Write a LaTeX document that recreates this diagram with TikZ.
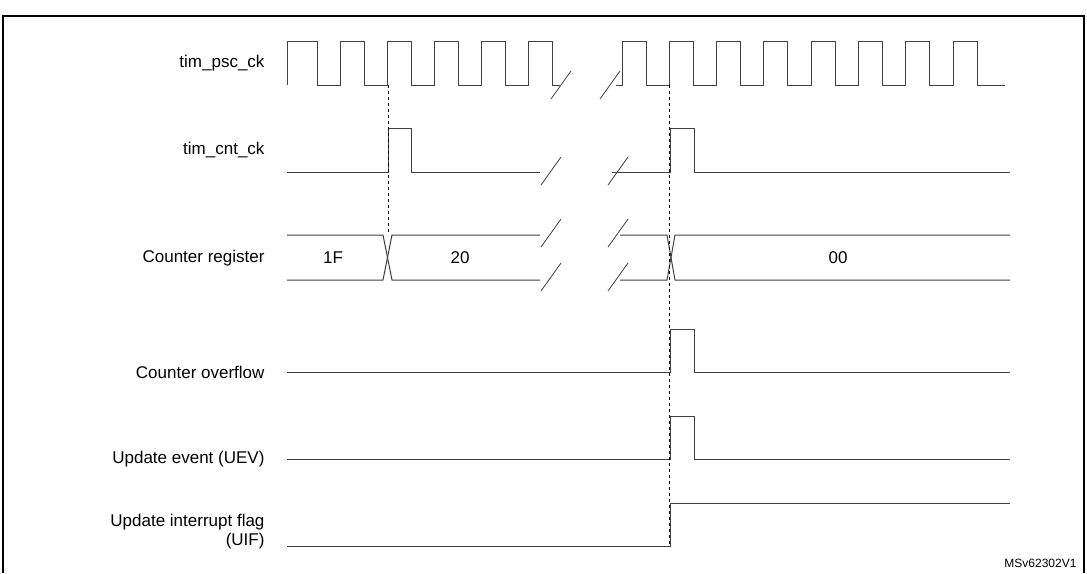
\documentclass[tikz,border=0pt]{standalone}
\usepackage{fontspec}
\setmainfont{Liberation Sans}
\usetikzlibrary{calc, positioning}
\tikzset{
    wave/.style={draw=black!75, line width=1pt},
    cut/.style={draw=black!75, line width=0.8pt},
    guide/.style={draw=black, dashed, line width=0.6pt},
    sig/.style={anchor=east, font=\fontsize{17}{19}\selectfont},
    val/.style={font=\fontsize{17}{19}\selectfont}
}
\newcommand{\slashmark}[3]{
    \draw[cut] (#1, #2) -- ($(#1, #2) + (20, -28)$) coordinate (#3);
}
\begin{document}
\begin{tikzpicture}[x=1pt, y=-1pt]
    \useasboundingbox (0, 0) rectangle (1087, 573);
    \draw[line width=2pt] (3, 573) -- (3, 16) -- (1084, 16) -- (1084, 573);
    % labels
    \node[sig] (lpsc) at (268, 63) {tim\_psc\_ck};
    \node[sig] (lcnt) at (268, 150) {tim\_cnt\_ck};
    \node[sig] (lreg) at (268, 258) {Counter register};
    \node[sig] (lovf) at (268, 372) {Counter overflow};
    \node[sig] (luev) at (268, 459) {Update event (UEV)};
    \node[sig, align=right] (luif) at (268, 532) {Update interrupt flag\\(UIF)};
    \node[anchor=south east, font=\fontsize{12}{14}\selectfont] (ver) at (1080, 571) {MSv62302V1};
    % tim_psc_ck
    \draw[wave] (287, 85) -- (287, 41) -- (317, 41) -- (317, 85)
        \foreach \x in {1, ..., 5} {
            -- ({293 + 47*\x}, 85) -- ({293 + 47*\x}, 41) -- ({293 + 47*\x + 24}, 41)
            -- ({293 + 47*\x + 24}, 85)
        } -- (561, 85);
    \draw[wave] (616, 85)
        \foreach \x in {0, ..., 7} {
            -- ({622 + 47.3*\x}, 85) -- ({622 + 47.3*\x}, 41) -- ({622 + 47.3*\x + 24}, 41)
            -- ({622 + 47.3*\x + 24}, 85)
        } -- (1005, 85);
    \slashmark{551}{99}{psca}
    \slashmark{600}{99}{pscb}
    % tim_cnt_ck
    \draw[wave] (287, 172) -- (388, 172) -- (388, 128) -- (411, 128) -- (411, 172) -- (540, 172);
    \slashmark{541}{185}{cnta}
    \draw[wave] (612, 172) -- (670, 172) -- (670, 128) -- (694, 128) -- (694, 172) -- (1010, 172);
    \slashmark{608}{185}{cntb}
    % counter register
    \draw[wave] (287, 235) -- (383, 235) -- (392, 280) -- (540, 280);
    \draw[wave] (287, 280) -- (383, 280) -- (392, 235) -- (540, 235);
    \draw[wave] (620, 235) -- (667, 235) -- (675, 280) -- (1010, 280);
    \draw[wave] (620, 280) -- (667, 280) -- (675, 235) -- (1010, 235);
    \slashmark{541}{247}{rega}
    \slashmark{541}{291}{regb}
    \slashmark{608}{247}{regc}
    \slashmark{608}{291}{regd}
    \node[val] (v1f) at (333, 258) {1F};
    \node[val] (v20) at (460, 258) {20};
    \node[val] (v00) at (838, 258) {00};
    % counter overflow
    \draw[wave] (287, 372) -- (670, 372) -- (670, 329) -- (694, 329) -- (694, 372) -- (1010, 372);
    % update event
    \draw[wave] (287, 459) -- (670, 459) -- (670, 416) -- (694, 416) -- (694, 459) -- (1010, 459);
    % update interrupt flag
    \draw[wave] (287, 546) -- (670, 546) -- (670, 503) -- (1010, 503);
    % markers
    \draw[guide] (388, 85) -- (388, 235);
    \draw[guide] (669, 85) -- (669, 546);
\end{tikzpicture}
\end{document}
